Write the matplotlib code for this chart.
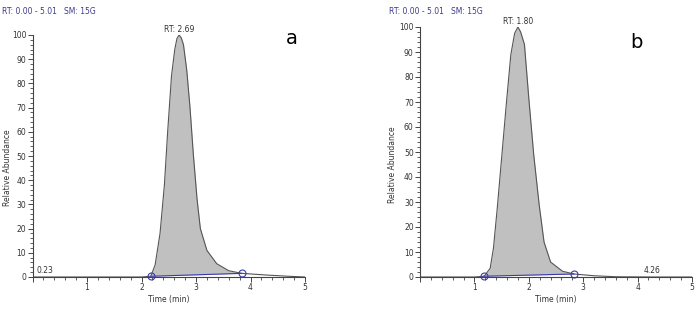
import numpy as np
import matplotlib
matplotlib.use("Agg")
import matplotlib.pyplot as plt
from matplotlib.ticker import MultipleLocator

# chromatogram a
a_time = [0, 0.5, 1.0, 1.5, 2.0, 2.17, 2.25, 2.34, 2.42, 2.48, 2.55, 2.61, 2.65, 2.69,
          2.73, 2.77, 2.83, 2.89, 2.95, 3.02, 3.08, 3.2, 3.38, 3.6, 3.84, 4.3, 4.7, 5.0]
a_abund = [0, 0, 0, 0, 0, 0.3, 5, 18, 38, 60, 83, 94, 98.5, 100,
           98.8, 96, 85.5, 70, 51, 32, 20, 11, 5.5, 2.6, 1.5, 0.8, 0.3, 0]
a_base_t = [2.17, 3.84]
a_base_v = [0.3, 1.5]

# chromatogram b
b_time = [0, 0.5, 1.0, 1.18, 1.29, 1.35, 1.42, 1.50, 1.59, 1.67, 1.74, 1.80, 1.85, 1.92,
          2.0, 2.09, 2.19, 2.28, 2.40, 2.62, 2.83, 3.2, 3.6, 4.26, 5.0]
b_abund = [0, 0, 0, 0.3, 3.5, 11.5, 27.5, 47.5, 70, 89, 97.5, 100, 98, 93,
           71.5, 49, 29, 14, 6, 2.3, 1.2, 0.5, 0.1, 0, 0]
b_base_t = [1.17, 2.83]
b_base_v = [0.3, 1.2]

x_ticks = [0, 1, 2, 3, 4, 5]
x_labels = ["", "1", "2", "3", "4", "5"]

panels = [
    dict(t=a_time, v=a_abund, bt=a_base_t, bv=a_base_v, rt="RT: 2.69", rt_x=2.69,
         small="0.23", small_x=0.23, letter="a",
         rect=[32.5 / 700, 32 / 309, 272.5 / 700, 242 / 309], ylab_x=-0.075,
         title_x=2 / 700, letter_x=292 / 700, letter_y=1 - 38 / 309),
    dict(t=b_time, v=b_abund, bt=b_base_t, bv=b_base_v, rt="RT: 1.80", rt_x=1.80,
         small="4.26", small_x=4.26, letter="b",
         rect=[420 / 700, 32 / 309, 272 / 700, 250 / 309], ylab_x=-0.085,
         title_x=389 / 700, letter_x=636 / 700, letter_y=1 - 43 / 309),
]

fig = plt.figure(figsize=(7, 3.09), dpi=100)
fs = 5.5
txt = "#333333"

for p in panels:
    ax = fig.add_axes(p["rect"])
    t = np.array(p["t"])
    v = np.array(p["v"])
    base = np.interp(t, p["bt"], p["bv"])
    inside = (t >= p["bt"][0]) & (t <= p["bt"][1])
    ax.fill_between(t, base, v, where=inside, color="#c0c0c0", lw=0)
    ax.plot(t, v, color="#555555", lw=0.8)
    ax.plot(p["bt"], p["bv"], color="#3a3ab0", lw=0.8)
    ax.plot(p["bt"], p["bv"], "o", ms=5, mfc="none", mec="#3a3ab0", mew=0.8, clip_on=False)

    ax.set_xlim(0, 5)
    ax.set_ylim(0, 100)
    for s in ["top", "right"]:
        ax.spines[s].set_visible(False)
    for s in ["left", "bottom"]:
        ax.spines[s].set_color("#444444")
        ax.spines[s].set_linewidth(0.8)
    ax.set_xticks(x_ticks, x_labels)
    ax.xaxis.set_minor_locator(MultipleLocator(0.2))
    ax.yaxis.set_major_locator(MultipleLocator(10))
    ax.yaxis.set_minor_locator(MultipleLocator(2))
    ax.tick_params(which="major", length=3.5, width=0.7, color="#444444",
                   labelsize=fs, labelcolor=txt, pad=1)
    ax.tick_params(which="minor", length=2, width=0.6, color="#444444")
    ax.set_xlabel("Time (min)", fontsize=fs, color=txt, labelpad=2)
    ax.set_ylabel("Relative Abundance", fontsize=fs, color=txt)
    ax.yaxis.set_label_coords(p["ylab_x"], 0.45)

    ax.text(p["rt_x"], 100.5, p["rt"], fontsize=fs, color=txt, ha="center", va="bottom")
    ax.text(p["small_x"], 0.8, p["small"], fontsize=fs, color=txt, ha="center", va="bottom")

    fig.text(p["title_x"], 1 - 12 / 309, "RT: 0.00 - 5.01   SM: 15G", fontsize=fs,
             color="#3b3b8c", ha="left", va="center")
    fig.text(p["letter_x"], p["letter_y"], p["letter"], fontsize=14, color="black",
             ha="center", va="center")

fig.savefig("out.png", dpi=100)
